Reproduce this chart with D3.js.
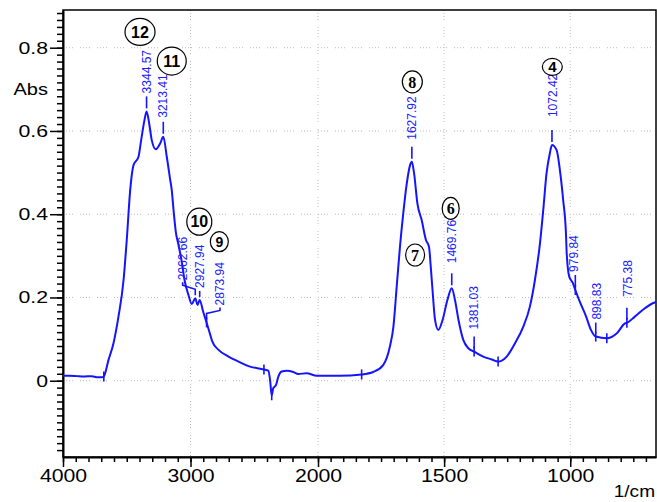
<!DOCTYPE html>
<html>
<head>
<meta charset="utf-8">
<style>
body { margin: 0; background: #fff; }
svg { display: block; font-family: "Liberation Sans", Arial, sans-serif; }
.axis path, .axis line { stroke: #000; }
.axis line { stroke-width: 1.5; }
.grid line { stroke: #bcbcbc; stroke-width: 1; stroke-dasharray: 1,2,1,2,1,2,1,7; }
.line { fill: none; stroke: #1414ff; stroke-width: 2; stroke-linejoin: round; }
.mark { stroke: #1414ff; stroke-width: 1.6; }
.plabel { fill: #2020ff; font-size: 12px; }
</style>
</head>
<body>
<svg width="657" height="502"></svg>
<script src="https://cdn.jsdelivr.net/npm/d3@7/dist/d3.min.js"></script>
<script>

// spectrum (1/cm, Abs)
var wavenumber = [4000, 3950, 3890, 3840, 3775, 3730, 3697, 3680, 3643, 3604, 3565, 3525, 3500, 3473, 3447, 3408, 3387, 3361,
  3344.57, 3324, 3304, 3272, 3238, 3213.41, 3186, 3159, 3147, 3133, 3115, 3094, 3068, 3047, 3016, 2990,
  2962.66, 2945, 2927.94, 2900, 2873.94, 2850, 2830, 2780, 2702, 2623, 2545, 2424, 2390, 2376, 2363, 2351,
  2329, 2311, 2285, 2245, 2194, 2155, 2089, 2010, 1913, 1827, 1781, 1741, 1715, 1701, 1688, 1675, 1662,
  1648, 1635, 1627.92, 1619, 1606, 1589, 1572, 1560, 1553, 1545, 1536, 1523, 1506, 1487, 1469.76, 1457,
  1443, 1424, 1404, 1381.03, 1345, 1311, 1286, 1252, 1219, 1186, 1160, 1140, 1120, 1107, 1094, 1081,
  1072.42, 1054, 1041, 1028, 1017, 1014, 1004, 990, 979.84, 965, 937, 918, 898.83, 855, 815, 782,
  775.38, 744, 704, 673, 660];
var absorbance = [0.012, 0.012, 0.011, 0.010, 0.011, 0.008, 0.008, 0.010, 0.050, 0.090, 0.154, 0.242, 0.338, 0.458, 0.518, 0.538, 0.578, 0.626,
  0.647, 0.618, 0.578, 0.556, 0.570, 0.586, 0.538, 0.482, 0.458, 0.410, 0.357, 0.326, 0.285, 0.242, 0.206, 0.184,
  0.198, 0.182, 0.194, 0.165, 0.140, 0.115, 0.095, 0.074, 0.058, 0.046, 0.035, 0.027, 0.024, 0.002, -0.035, -0.018,
  -0.010, 0.010, 0.022, 0.024, 0.021, 0.016, 0.018, 0.012, 0.012, 0.015, 0.021, 0.038, 0.082, 0.130, 0.226, 0.322, 0.402,
  0.474, 0.518, 0.526, 0.498, 0.426, 0.386, 0.338, 0.322, 0.274, 0.210, 0.146, 0.122, 0.146, 0.194, 0.222, 0.194,
  0.146, 0.098, 0.078, 0.070, 0.058, 0.051, 0.046, 0.058, 0.090, 0.130, 0.178, 0.242, 0.330, 0.410, 0.498, 0.546,
  0.566, 0.554, 0.506, 0.434, 0.354, 0.306, 0.250, 0.235, 0.218, 0.194, 0.154, 0.122, 0.106, 0.102, 0.114, 0.138,
  0.139, 0.154, 0.174, 0.186, 0.189];

// labelled peaks and unlabelled pick marks
var peakWn = [3344.57, 3213.41, 2962.66, 2927.94, 2873.94, 1627.92, 1469.76, 1381.03, 1072.42, 979.84, 898.83, 775.38];
var markWn = [3680, 2873.94, 2424, 2363, 1827, 1381.03, 1286, 979.84, 898.83, 855, 775.38];

// circled band numbers
var circleText = ["12", "11", "10", "9", "8", "7", "6", "4"];
var circleWn = [3396, 3147, 2931, 2774, 1626, 1615, 1474, 1071];
var circleAbs = [0.838, 0.768, 0.382, 0.334, 0.718, 0.302, 0.414, 0.754];

var xTicks = [4000, 3000, 2000, 1500, 1000];
var yTicks = [0, 0.2, 0.4, 0.6, 0.8];
var xGrid = [3000, 2000, 1500, 1000];

// label placement (pixels)
var labelDx = [0, 0, -12.6, 0.3, 13.4, 0, 0, 0, 1, -2, 1, 1.4];
var labelLift = [18, 19, 18, 12, 17, 22, 25, 22, 28, 18, 17, 26];
var circleStyle = [
  {rx: 15, ry: 13.5, serif: false, size: 16},
  {rx: 14.5, ry: 14, serif: false, size: 16},
  {rx: 12.5, ry: 13.5, serif: false, size: 16},
  {rx: 9, ry: 10, serif: false, size: 14},
  {rx: 10, ry: 11, serif: true, size: 16},
  {rx: 9.5, ry: 11, serif: true, size: 16},
  {rx: 8.5, ry: 11, serif: true, size: 16},
  {rx: 10, ry: 8.5, serif: false, size: 15}
];

var svg = d3.select("svg"),
  margin = {top: 10, right: 1, bottom: 45, left: 63},
  width = +svg.attr("width") - margin.left - margin.right,
  height = +svg.attr("height") - margin.top - margin.bottom;

// the x axis is compressed above 2000 1/cm
var x = d3.scaleLinear().domain([4000, 2000, 660]).range([0, 255, width]),
  y = d3.scaleLinear().domain([-0.1833, 0.8906]).range([height, 0]);

var data = wavenumber.map(function (w, i) { return {wn: w, abs: absorbance[i]}; });

function absAt(w) {
  for (var i = 0; i < wavenumber.length - 1; i++) {
    if (w <= wavenumber[i] && w >= wavenumber[i + 1]) {
      var t = (wavenumber[i] - w) / (wavenumber[i] - wavenumber[i + 1]);
      return absorbance[i] + t * (absorbance[i + 1] - absorbance[i]);
    }
  }
  return 0;
}

function stretch(sel, k) {
  sel.each(function () {
    var len = this.getComputedTextLength();
    d3.select(this).attr("textLength", len * k).attr("lengthAdjust", "spacingAndGlyphs");
  });
}

var g = svg.append("g")
  .attr("transform", "translate(" + margin.left + "," + margin.top + ")");

// grid
var grid = g.append("g").attr("class", "grid");
grid.selectAll(".gx").data(xGrid).enter().append("line")
  .attr("x1", d => x(d)).attr("x2", d => x(d))
  .attr("y1", 0).attr("y2", height);
grid.selectAll(".gy").data(yTicks).enter().append("line")
  .attr("x1", 0).attr("x2", width)
  .attr("y1", d => y(d)).attr("y2", d => y(d));

// frame
g.append("rect")
  .attr("width", width).attr("height", height)
  .attr("fill", "none").attr("stroke", "#000").attr("stroke-width", 1.5);

// minor ticks
var xMinor = d3.range(4000, 2000, -100).concat(d3.range(2000, 660, -50));
var yMinor = d3.range(-10, 54).map(function (k) { return k * 0.2 / 12; })
  .filter(function (v) { return v >= y.domain()[0] && v <= y.domain()[1]; });

g.append("g").attr("class", "axis")
  .attr("transform", "translate(0," + height + ")")
  .call(d3.axisBottom(x).tickValues(xMinor).tickSize(5).tickFormat(""))
  .call(s => s.select(".domain").remove());

g.append("g").attr("class", "axis")
  .call(d3.axisLeft(y).tickValues(yMinor).tickSize(6).tickFormat(""))
  .call(s => s.select(".domain").remove());

var xAxis = g.append("g").attr("class", "axis axis--x")
  .attr("transform", "translate(0," + height + ")")
  .call(d3.axisBottom(x).tickValues(xTicks).tickSize(10).tickPadding(2).tickSizeOuter(0).tickFormat(d3.format("d")));
xAxis.select(".domain").attr("stroke-width", 2);
xAxis.selectAll("text").attr("fill", "#000").style("font-size", "18px").call(stretch, 1.18);

var yAxis = g.append("g").attr("class", "axis axis--y")
  .call(d3.axisLeft(y).tickValues(yTicks).tickSize(13).tickPadding(2).tickSizeOuter(0).tickFormat(d3.format("~g")));
yAxis.select(".domain").attr("stroke-width", 2);
yAxis.selectAll("text").attr("fill", "#000").style("font-size", "17px").call(stretch, 1.25);

svg.append("text")
  .attr("x", 48).attr("y", 95)
  .attr("text-anchor", "end")
  .style("font-size", "16px")
  .text("Abs").call(stretch, 1.25);

svg.append("text")
  .attr("x", 655).attr("y", 497)
  .attr("text-anchor", "end")
  .style("font-size", "17px")
  .text("1/cm").call(stretch, 1.12);

// spectrum
var line = d3.line()
  .curve(d3.curveMonotoneX)
  .x(function (d) { return x(d.wn); })
  .y(function (d) { return y(d.abs); });

g.append("path")
  .datum(data)
  .attr("class", "line")
  .attr("d", line);

// pick marks across the curve
g.selectAll(".pick").data(markWn).enter().append("line")
  .attr("class", "mark")
  .attr("x1", d => x(d)).attr("x2", d => x(d))
  .attr("y1", d => y(absAt(d)) - 5).attr("y2", d => y(absAt(d)) + 5);

// peak labels
peakWn.forEach(function (w, i) {
  var px = x(w), py = y(absAt(w));
  var tx = px + labelDx[i], tb = py - labelLift[i];
  if (Math.abs(labelDx[i]) > 5) {
    g.append("polyline")
      .attr("points", [[tx, tb + 2], [tx, tb + 5], [px, py - 9], [px, py - 3]].join(" "))
      .attr("fill", "none").attr("class", "mark").attr("stroke-width", 1.2);
  } else {
    g.append("line").attr("class", "mark")
      .attr("x1", px).attr("x2", px)
      .attr("y1", Math.max(tb + 3, py - 15)).attr("y2", py - 3);
  }
  g.append("text")
    .attr("class", "plabel")
    .attr("transform", "translate(" + tx + "," + tb + ") rotate(-90)")
    .attr("dy", "0.35em")
    .text(d3.format(".2f")(w));
});

// circled numbers
circleText.forEach(function (t, i) {
  var cs = circleStyle[i];
  var cx = x(circleWn[i]), cy = y(circleAbs[i]);
  g.append("ellipse")
    .attr("cx", cx).attr("cy", cy)
    .attr("rx", cs.rx).attr("ry", cs.ry)
    .attr("fill", "#fff").attr("stroke", "#000").attr("stroke-width", 1.2);
  g.append("text")
    .attr("x", cx).attr("y", cy)
    .attr("text-anchor", "middle")
    .attr("dy", "0.36em")
    .style("font-family", cs.serif ? "'Liberation Serif', 'Times New Roman', serif" : null)
    .style("font-weight", "bold")
    .style("font-size", cs.size + "px")
    .text(t);
});

</script>
</body>
</html>
